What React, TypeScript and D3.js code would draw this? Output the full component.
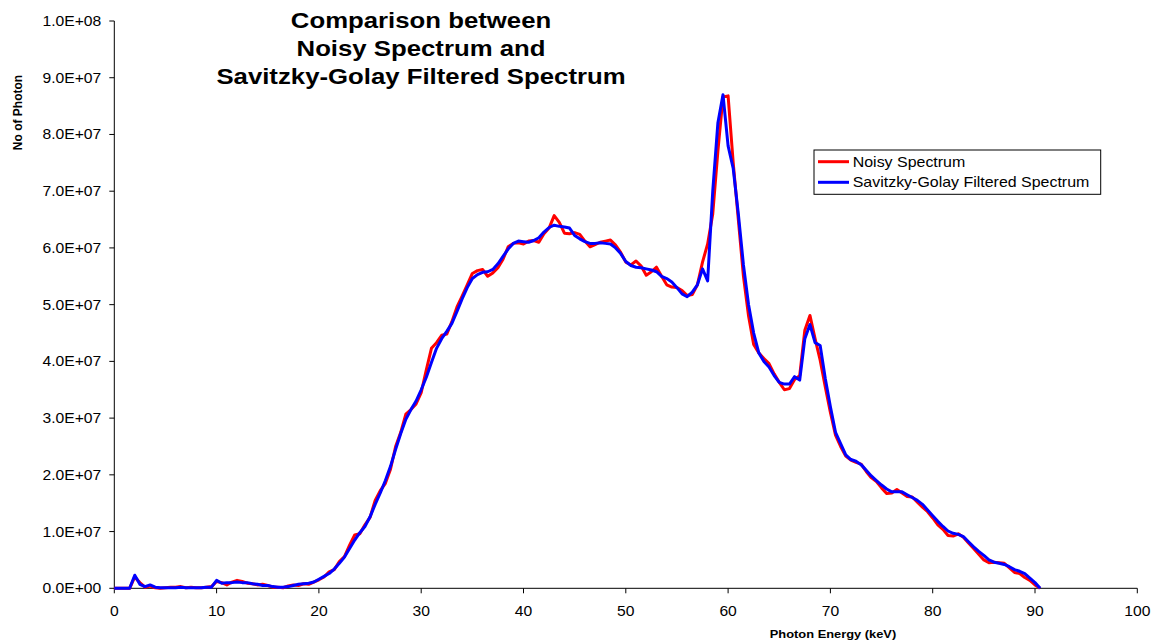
import React from "react";
import * as d3 from "d3";

// Photon energy grid (keV)
const energy: number[] = [
  0, 0.5, 1, 1.5, 2, 2.5, 3, 3.5, 4, 4.5, 5, 5.5, 6, 6.5, 7, 7.5, 8, 8.5, 9, 9.5,
  10, 10.5, 11, 11.5, 12, 12.5, 13, 13.5, 14, 14.5, 15, 15.5, 16, 16.5, 17, 17.5, 18, 18.5, 19, 19.5,
  20, 20.5, 21, 21.5, 22, 22.5, 23, 23.5, 24, 24.5, 25, 25.5, 26, 26.5, 27, 27.5, 28, 28.5, 29, 29.5,
  30, 30.5, 31, 31.5, 32, 32.5, 33, 33.5, 34, 34.5, 35, 35.5, 36, 36.5, 37, 37.5, 38, 38.5, 39, 39.5,
  40, 40.5, 41, 41.5, 42, 42.5, 43, 43.5, 44, 44.5, 45, 45.5, 46, 46.5, 47, 47.5, 48, 48.5, 49, 49.5,
  50, 50.5, 51, 51.5, 52, 52.5, 53, 53.5, 54, 54.5, 55, 55.5, 56, 56.5, 57, 57.5, 58, 58.5, 59, 59.5,
  60, 60.5, 61, 61.5, 62, 62.5, 63, 63.5, 64, 64.5, 65, 65.5, 66, 66.5, 67, 67.5, 68, 68.5, 69, 69.5,
  70, 70.5, 71, 71.5, 72, 72.5, 73, 73.5, 74, 74.5, 75, 75.5, 76, 76.5, 77, 77.5, 78, 78.5, 79, 79.5,
  80, 80.5, 81, 81.5, 82, 82.5, 83, 83.5, 84, 84.5, 85, 85.5, 86, 86.5, 87, 87.5, 88, 88.5, 89, 89.5,
  90, 90.5,
];

// Noisy spectrum (millions of photons)
const noisy: number[] = [
  0, 0, 0, 0, 2.0, 1.0, 0.2, 0.4, 0.1, 0.0, 0.1, 0.2, 0.2, 0.3, 0.1, 0.2, 0.1, 0.1, 0.2, 0.3,
  1.2, 1.0, 0.6, 1.1, 1.4, 1.2, 0.9, 0.8, 0.6, 0.7, 0.5, 0.2, 0.2, 0.1, 0.4, 0.6, 0.5, 0.8, 0.7, 1.1,
  1.5, 2.0, 2.9, 3.3, 4.7, 5.6, 7.6, 9.4, 9.6, 11.2, 12.5, 15.5, 17.2, 18.5, 21.0, 25.0, 27.5, 30.7, 31.5, 32.5,
  34.5, 38.5, 42.3, 43.3, 44.6, 44.8, 47.0, 49.6, 51.5, 53.5, 55.5, 56.0, 56.2, 55.0, 55.6, 56.5, 58.0, 60.2, 60.8, 60.9,
  60.7, 61.2, 61.3, 61.0, 62.5, 63.5, 65.7, 64.5, 62.6, 62.5, 62.7, 62.4, 61.2, 60.2, 60.6, 61.0, 61.2, 61.4, 60.5, 59.2,
  57.5, 57.0, 57.7, 56.8, 55.2, 55.8, 56.6, 55.0, 53.5, 53.1, 53.0, 52.5, 51.6, 51.8, 53.5, 57.5, 60.7, 66.0, 77.0, 86.6,
  86.8, 75.0, 65.0, 55.0, 48.0, 43.0, 41.5, 40.5, 39.6, 37.8, 36.3, 35.0, 35.2, 36.8, 37.5, 45.5, 48.1, 44.0, 40.2, 35.5,
  31.0, 27.0, 25.0, 23.3, 22.6, 22.2, 21.9, 20.6, 19.5, 18.8, 17.7, 16.7, 16.8, 17.4, 16.8, 16.2, 16.1, 15.2, 14.3, 13.5,
  12.4, 11.2, 10.4, 9.3, 9.2, 9.6, 9.0, 8.0, 7.0, 6.0, 5.0, 4.5, 4.6, 4.5, 4.4, 3.6, 2.8, 2.6, 1.9, 1.4,
  0.6, 0,
];

// Savitzky-Golay filtered spectrum (millions of photons)
const filtered: number[] = [
  0, 0, 0, 0, 2.3, 0.7, 0.3, 0.6, 0.2, 0.1, 0.1, 0.1, 0.1, 0.2, 0.1, 0.1, 0.1, 0.1, 0.2, 0.2,
  1.4, 0.9, 1.0, 1.0, 1.1, 1.0, 1.0, 0.8, 0.7, 0.5, 0.5, 0.3, 0.2, 0.2, 0.3, 0.5, 0.7, 0.8, 0.9, 1.1,
  1.6, 2.1, 2.6, 3.4, 4.4, 5.5, 7.0, 8.5, 9.8, 10.9, 12.6, 14.8, 16.8, 19.0, 21.5, 24.5, 27.3, 29.8, 31.5, 33.0,
  35.0, 37.2, 39.8, 42.3, 44.0, 45.3, 46.7, 48.8, 51.0, 53.0, 54.6, 55.3, 55.7, 55.8, 56.2, 57.2, 58.5, 59.8, 60.8, 61.2,
  61.1, 61.0, 61.3, 61.8, 62.8, 63.6, 64.0, 63.8, 63.7, 63.5, 62.2, 61.6, 61.1, 60.8, 60.8, 60.9, 60.8, 60.7, 60.0, 59.0,
  57.6, 56.9, 56.6, 56.5, 56.3, 56.1, 55.8, 55.0, 54.6, 54.0, 53.0, 51.9, 51.4, 52.2, 53.5, 56.3, 54.2, 70.0, 82.0, 87.0,
  78.0, 74.0, 66.0, 57.0, 50.0, 45.0, 41.5, 40.0, 39.0, 37.5, 36.3, 36.0, 36.0, 37.3, 36.7, 44.0, 46.5, 43.3, 42.8, 37.0,
  32.0, 27.5, 25.5, 23.5, 22.7, 22.4, 21.8, 20.8, 19.8, 19.0, 18.2, 17.5, 17.0, 17.0, 17.0, 16.5, 16.0, 15.5, 14.8, 13.8,
  12.8, 11.8, 10.9, 10.1, 9.7, 9.5, 9.1, 8.2, 7.3, 6.5, 5.8, 5.0, 4.6, 4.4, 4.2, 3.8, 3.3, 3.0, 2.6, 1.8,
  1.0, 0,
];

const xTicks: number[] = [0, 10, 20, 30, 40, 50, 60, 70, 80, 90, 100];
const yTicks: number[] = [0, 1e7, 2e7, 3e7, 4e7, 5e7, 6e7, 7e7, 8e7, 9e7, 1e8];
const yTickLabels: string[] = [
  "0.0E+00", "1.0E+07", "2.0E+07", "3.0E+07", "4.0E+07", "5.0E+07",
  "6.0E+07", "7.0E+07", "8.0E+07", "9.0E+07", "1.0E+08",
];
const titleLines: string[] = [
  "Comparison between",
  "Noisy Spectrum and",
  "Savitzky-Golay Filtered Spectrum",
];
const seriesNames: string[] = ["Noisy Spectrum", "Savitzky-Golay Filtered Spectrum"];
const seriesColors: string[] = ["#FF0000", "#0000FF"];

const W = 1165;
const H = 643;
const FONT = "Arial, 'Liberation Sans', Helvetica, sans-serif";
const SX = 1.12; // horizontal stretch of the original picture

export default function App() {
  const x = d3.scaleLinear().domain([0, 100]).range([114.3, 1137.3]);
  const y = d3.scaleLinear().domain([0, 1e8]).range([588.3, 21]);

  const line = d3
    .line<number>()
    .x((_, i) => x(energy[i]))
    .y((d) => y(d * 1e6));

  const series = [noisy, filtered];

  return (
    <svg
      width={W}
      height={H}
      style={{ position: "absolute", left: 0, top: 0, background: "#fff" }}
      fontFamily={FONT}
    >
      <rect x={0} y={0} width={W} height={H} fill="#fff" />

      {/* axes */}
      <line x1={x(0)} x2={x(0)} y1={y(1e8)} y2={y(0)} stroke="#000" strokeWidth={1} />
      <line x1={x(0)} x2={x(100)} y1={y(0)} y2={y(0)} stroke="#000" strokeWidth={1} />

      {yTicks.map((t, i) => (
        <g key={"yt" + i}>
          <line x1={x(0) - 5} x2={x(0)} y1={y(t)} y2={y(t)} stroke="#000" strokeWidth={1} />
          <text
            transform={`translate(${x(0) - 13},${y(t) + 5}) scale(${SX},1)`}
            textAnchor="end"
            fontSize={14}
            fill="#000"
          >
            {yTickLabels[i]}
          </text>
        </g>
      ))}

      {xTicks.map((t, i) => (
        <g key={"xt" + i}>
          <line x1={x(t)} x2={x(t)} y1={y(0)} y2={y(0) + 5} stroke="#000" strokeWidth={1} />
          <text
            transform={`translate(${x(t)},${y(0) + 27.5}) scale(${SX},1)`}
            textAnchor="middle"
            fontSize={14}
            fill="#000"
          >
            {t}
          </text>
        </g>
      ))}

      {/* axis titles */}
      <text
        transform={`translate(833,638) scale(${SX},1)`}
        textAnchor="middle"
        fontSize={11.5}
        fontWeight="bold"
        fill="#000"
      >
        Photon Energy (keV)
      </text>
      <text
        transform={`translate(21.5,112.5) rotate(-90)`}
        textAnchor="middle"
        fontSize={12}
        fontWeight="bold"
        fill="#000"
      >
        No of Photon
      </text>

      {/* series */}
      {series.map((s, k) => (
        <path
          key={"s" + k}
          d={line(s) || ""}
          fill="none"
          stroke={seriesColors[k]}
          strokeWidth={3}
          strokeLinejoin="round"
        />
      ))}

      {/* title */}
      {titleLines.map((t, i) => (
        <text
          key={"tl" + i}
          transform={`translate(421,${28 + i * 28}) scale(${SX},1)`}
          textAnchor="middle"
          fontSize={23}
          fontWeight="bold"
          fill="#000"
        >
          {t}
        </text>
      ))}

      {/* legend */}
      <rect x={814} y={150} width={286.7} height={44.3} fill="#fff" stroke="#000" strokeWidth={1} />
      {seriesNames.map((n, i) => (
        <g key={"lg" + i}>
          <line
            x1={818}
            x2={849}
            y1={161.7 + i * 20.6}
            y2={161.7 + i * 20.6}
            stroke={seriesColors[i]}
            strokeWidth={3}
          />
          <text
            transform={`translate(852.7,${166.7 + i * 20.6}) scale(1.14,1)`}
            fontSize={14}
            fill="#000"
          >
            {n}
          </text>
        </g>
      ))}
    </svg>
  );
}
